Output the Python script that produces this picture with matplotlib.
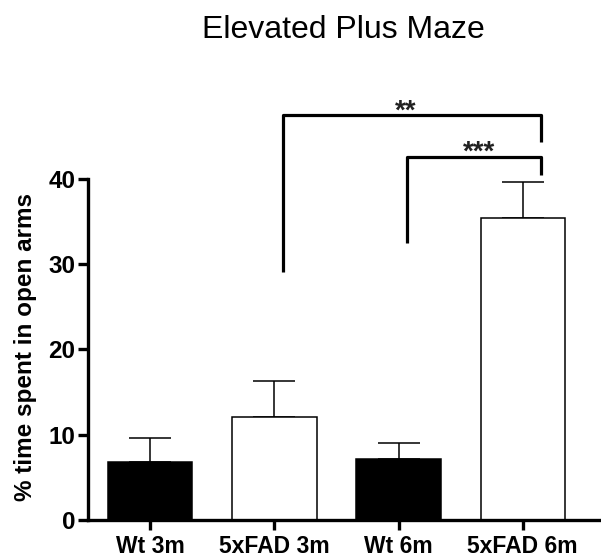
import matplotlib

matplotlib.use("Agg")
import matplotlib.pyplot as plt

# ── data ─────────────────────────────────────────────────────────────
groups = ["Wt 3m", "5xFAD 3m", "Wt 6m", "5xFAD 6m"]
means = [6.8, 12.1, 7.1, 35.4]
sems = [2.8, 4.2, 1.9, 4.2]
fills = ["black", "white", "black", "white"]

# significance brackets: left x, right x, bar height, left foot, right foot, label
br_left = [1.07, 2.07]
br_right = [3.15, 3.15]
br_height = [47.5, 42.6]
br_left_foot = [29.1, 32.5]
br_right_foot = [44.3, 40.4]
br_labels = ["**", "***"]
br_label_x = [2.06, 2.65]

plt.rcParams["font.family"] = ["Liberation Sans", "DejaVu Sans"]

fig = plt.figure(figsize=(6.01, 5.58), dpi=100)
ax = fig.add_axes([0.1464, 0.0681, 0.8536, 0.7643])

x = list(range(len(groups)))
ax.bar(x, means, width=0.68, color=fills, edgecolor="black", linewidth=1.1, zorder=2)
ax.errorbar(x, means, yerr=[[0] * len(sems), sems], fmt="none", ecolor="black",
            elinewidth=1.1, capsize=15, capthick=1.1, zorder=1)

for xl, xr, h, fl, fr, lab, lx in zip(br_left, br_right, br_height, br_left_foot,
                                       br_right_foot, br_labels, br_label_x):
    ax.plot([xl, xl, xr, xr], [fl, h, h, fr], color="black", lw=2.3,
            solid_capstyle="butt", solid_joinstyle="round", clip_on=False)
    ax.text(lx, h - 0.4, lab, ha="center", va="baseline",
            fontsize=20, fontweight="bold", color="#222222", clip_on=False)

ax.set_xlim(-0.5, 3.63)
ax.set_ylim(0, 50)
ax.set_yticks([0, 10, 20, 30, 40])
ax.set_xticks(x)
ax.set_xticklabels(groups, fontsize=16.5, fontweight="bold")
for lab in ax.get_yticklabels():
    lab.set_fontsize(17.5)
    lab.set_fontweight("bold")

ax.spines["top"].set_visible(False)
ax.spines["right"].set_visible(False)
ax.spines["left"].set_bounds(0, 40)
ax.spines["left"].set_linewidth(2.4)
ax.spines["bottom"].set_linewidth(2.4)
ax.tick_params(axis="both", direction="out", length=7, width=2.4, pad=2)
ax.tick_params(axis="x", pad=4)

ax.set_ylabel("% time spent in open arms", fontsize=17.5, fontweight="bold")
ax.yaxis.set_label_coords(-0.099, 0.405)

fig.text(0.571, 0.947, "Elevated Plus Maze", ha="center", va="center", fontsize=23)

fig.savefig("out.png", dpi=100)
